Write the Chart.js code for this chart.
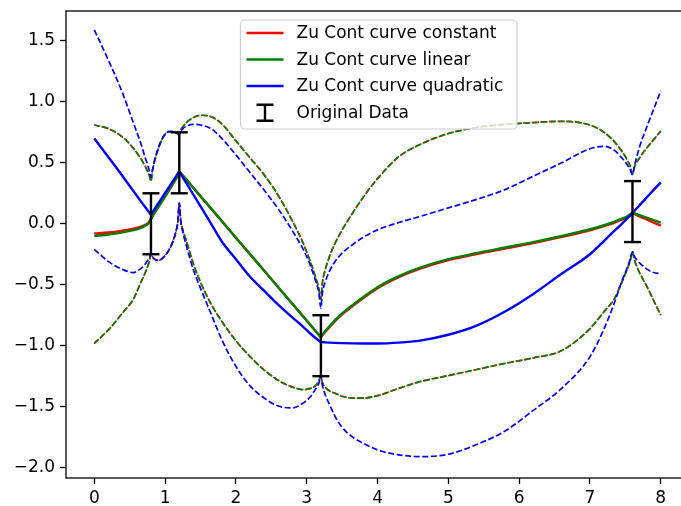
<!DOCTYPE html>
<html>
<head>
<meta charset="utf-8">
<script src="https://cdn.jsdelivr.net/npm/chart.js@4/dist/chart.umd.min.js"></script>
<style>
  html, body { margin: 0; padding: 0; background: #fff; overflow: hidden; }
  #wrap { position: relative; width: 700px; height: 506px; }
</style>
</head>
<body>
<div id="wrap"><canvas id="c" width="700" height="506"></canvas></div>
<script>
// Sample positions shared by every fitted curve
const xs = [0, 0.2, 0.4, 0.55, 0.65, 0.72, 0.76, 0.78, 0.8, 0.82, 0.85, 0.9, 0.95, 1.0, 1.05, 1.1, 1.15, 1.18, 1.2, 1.22,
            1.25, 1.3, 1.4, 1.5, 1.65, 1.8, 2.0, 2.2, 2.4, 2.6, 2.8, 2.95, 3.05, 3.12, 3.17, 3.2, 3.22, 3.26, 3.32, 3.4,
            3.5, 3.65, 3.8, 4.0, 4.3, 4.6, 5.0, 5.4, 5.8, 6.2, 6.6, 7.0, 7.2, 7.35, 7.45, 7.52, 7.57, 7.6, 7.63, 7.7,
            7.8, 7.9, 8.0];

// Constant trend: mean curve
const constMean = [-0.08, -0.072, -0.056, -0.04, -0.025, -0.008, 0.006, 0.02, 0.042, 0.06, 0.09, 0.135, 0.18, 0.225, 0.27, 0.32, 0.365, 0.40, 0.43, 0.416,
                   0.396, 0.362, 0.294, 0.226, 0.124, 0.022, -0.114, -0.25, -0.386, -0.522, -0.658, -0.76, -0.828, -0.876, -0.91, -0.93, -0.915, -0.888, -0.848, -0.798,
                   -0.743, -0.673, -0.608, -0.528, -0.438, -0.368, -0.298, -0.248, -0.203, -0.158, -0.108, -0.053, -0.02, 0.01, 0.034, 0.052, 0.07, 0.085, 0.08, 0.06,
                   0.035, 0.01, -0.015];
// Linear trend: mean curve
const linMean = [-0.10, -0.088, -0.07, -0.052, -0.035, -0.015, 0.0, 0.015, 0.04, 0.06, 0.09, 0.135, 0.18, 0.225, 0.27, 0.32, 0.365, 0.40, 0.43, 0.416,
                 0.396, 0.362, 0.294, 0.226, 0.124, 0.022, -0.114, -0.25, -0.386, -0.522, -0.658, -0.76, -0.828, -0.876, -0.91, -0.93, -0.91, -0.88, -0.84, -0.79,
                 -0.735, -0.665, -0.60, -0.52, -0.43, -0.36, -0.29, -0.24, -0.195, -0.15, -0.10, -0.045, -0.012, 0.018, 0.042, 0.06, 0.078, 0.09, 0.086, 0.07,
                 0.05, 0.03, 0.01];
// Quadratic trend: mean curve
const quadMean = [0.70, 0.545, 0.39, 0.27, 0.19, 0.135, 0.105, 0.09, 0.075, 0.093, 0.12, 0.164, 0.209, 0.253, 0.297, 0.341, 0.386, 0.413, 0.43, 0.41,
                  0.38, 0.333, 0.238, 0.143, 0.0, -0.145, -0.29, -0.435, -0.55, -0.665, -0.77, -0.845, -0.90, -0.935, -0.958, -0.97, -0.971, -0.973, -0.975, -0.977,
                  -0.979, -0.981, -0.982, -0.982, -0.975, -0.958, -0.91, -0.835, -0.72, -0.575, -0.41, -0.25, -0.14, -0.055, 0.0, 0.04, 0.07, 0.09, 0.108, 0.152,
                  0.215, 0.278, 0.34];

// Confidence band of the constant / linear trends (the two coincide)
const clUpper = [0.81, 0.78, 0.71, 0.62, 0.54, 0.47, 0.42, 0.39, 0.35, 0.43, 0.51, 0.61, 0.685, 0.735, 0.755, 0.755, 0.745, 0.738, 0.735, 0.77,
                 0.795, 0.83, 0.872, 0.89, 0.878, 0.82, 0.68, 0.54, 0.40, 0.23, 0.02, -0.16, -0.31, -0.43, -0.53, -0.62, -0.49, -0.38, -0.27, -0.16,
                 -0.05, 0.09, 0.22, 0.37, 0.55, 0.65, 0.74, 0.79, 0.815, 0.83, 0.84, 0.81, 0.75, 0.67, 0.595, 0.53, 0.47, 0.41, 0.47, 0.54,
                 0.62, 0.69, 0.76];
const clLower = [-0.98, -0.87, -0.73, -0.62, -0.49, -0.40, -0.34, -0.30, -0.245, -0.27, -0.29, -0.30, -0.29, -0.26, -0.22, -0.16, -0.07, 0.02, 0.17, 0.03,
                 -0.05, -0.14, -0.33, -0.48, -0.66, -0.80, -0.96, -1.09, -1.20, -1.285, -1.34, -1.36, -1.35, -1.33, -1.29, -1.25, -1.30, -1.34, -1.37, -1.39,
                 -1.415, -1.43, -1.43, -1.41, -1.35, -1.295, -1.245, -1.195, -1.145, -1.10, -1.04, -0.86, -0.72, -0.61, -0.48, -0.38, -0.30, -0.23, -0.30, -0.40,
                 -0.51, -0.63, -0.75];
// Confidence band of the quadratic trend
const qUpper = [1.59, 1.34, 1.07, 0.83, 0.67, 0.54, 0.47, 0.43, 0.38, 0.44, 0.52, 0.615, 0.69, 0.735, 0.755, 0.755, 0.745, 0.738, 0.735, 0.76,
                0.78, 0.80, 0.815, 0.81, 0.78, 0.70, 0.565, 0.42, 0.275, 0.12, -0.06, -0.21, -0.34, -0.46, -0.56, -0.69, -0.57, -0.48, -0.39, -0.31,
                -0.24, -0.17, -0.11, -0.05, 0.01, 0.06, 0.13, 0.20, 0.28, 0.39, 0.50, 0.615, 0.635, 0.60, 0.54, 0.49, 0.44, 0.40, 0.48, 0.63,
                0.79, 0.94, 1.09];
const qLower = [-0.21, -0.31, -0.375, -0.40, -0.37, -0.33, -0.295, -0.275, -0.245, -0.27, -0.29, -0.30, -0.29, -0.26, -0.22, -0.16, -0.07, 0.02, 0.17, 0.02,
                -0.07, -0.18, -0.38, -0.53, -0.74, -0.95, -1.17, -1.33, -1.43, -1.495, -1.51, -1.47, -1.42, -1.36, -1.31, -1.245, -1.32, -1.40, -1.48, -1.58,
                -1.67, -1.75, -1.80, -1.855, -1.895, -1.91, -1.89, -1.81, -1.70, -1.53, -1.35, -1.09, -0.86, -0.64, -0.47, -0.37, -0.29, -0.23, -0.27, -0.32,
                -0.37, -0.40, -0.41];

// Measured points with their error bars
const obsX = [0.8, 1.2, 3.2, 7.6];
const obsY = [0.0, 0.5, -1.0, 0.1];
const obsErr = [0.25, 0.25, 0.25, 0.25];

// Axis ticks
const xTicks = [0, 1, 2, 3, 4, 5, 6, 7, 8];
const yTicks = [-2.0, -1.5, -1.0, -0.5, 0.0, 0.5, 1.0, 1.5];

const legendLabels = ['Zu Cont curve constant', 'Zu Cont curve linear', 'Zu Cont curve quadratic', 'Original Data'];

const FONT = '"DejaVu Sans", "Liberation Sans", sans-serif';
const FS = 17;
const RED = '#ff0000', GREEN = '#008000', BLUE = '#0000ff';

const pts = ys => xs.map((x, i) => ({ x, y: ys[i] }));

const errPts = [];
obsX.forEach((x, i) => {
  errPts.push({ x, y: obsY[i] - obsErr[i] }, { x, y: obsY[i] + obsErr[i] }, { x, y: null });
});

const solid = (data, color, order) => ({
  data: pts(data), borderColor: color, borderWidth: 2.4, pointRadius: 0, showLine: true,
  cubicInterpolationMode: 'monotone', fill: false, order
});
const dashed = (data, color, order, offset) => ({
  data: pts(data), borderColor: color, borderWidth: 1.7, borderDash: [6, 2.6], borderDashOffset: offset || 0,
  pointRadius: 0, showLine: true, cubicInterpolationMode: 'monotone', fill: false, order
});

// Frame around the plotting area plus the in-plot legend
const framePlugin = {
  id: 'frame',
  afterDraw(chart) {
    const { ctx, chartArea: a } = chart;
    ctx.save();
    ctx.strokeStyle = '#000';
    ctx.lineWidth = 1.3;
    ctx.strokeRect(a.left, a.top, a.right - a.left, a.bottom - a.top);

    // legend box
    const bx = a.left + 174.5, by = a.top + 9, bw = 276.5, bh = 109, r = 4;
    ctx.beginPath();
    ctx.moveTo(bx + r, by);
    ctx.lineTo(bx + bw - r, by); ctx.arcTo(bx + bw, by, bx + bw, by + r, r);
    ctx.lineTo(bx + bw, by + bh - r); ctx.arcTo(bx + bw, by + bh, bx + bw - r, by + bh, r);
    ctx.lineTo(bx + r, by + bh); ctx.arcTo(bx, by + bh, bx, by + bh - r, r);
    ctx.lineTo(bx, by + r); ctx.arcTo(bx, by, bx + r, by, r);
    ctx.closePath();
    ctx.fillStyle = 'rgba(255,255,255,0.8)';
    ctx.fill();
    ctx.strokeStyle = '#d0d0d0';
    ctx.lineWidth = 1.2;
    ctx.stroke();

    const hx0 = bx + 6, hx1 = bx + 43, tx = bx + 56;
    const rowY = [by + 13, by + 39.5, by + 66, by + 92.7];
    const colors = [RED, GREEN, BLUE];
    ctx.lineWidth = 2.4;
    colors.forEach((c, i) => {
      ctx.strokeStyle = c;
      ctx.beginPath(); ctx.moveTo(hx0, rowY[i]); ctx.lineTo(hx1, rowY[i]); ctx.stroke();
    });
    // error bar symbol
    const cx = (hx0 + hx1) / 2, cy = rowY[3];
    ctx.strokeStyle = '#000';
    ctx.lineWidth = 2.4;
    ctx.beginPath();
    ctx.moveTo(cx, cy - 8); ctx.lineTo(cx, cy + 8);
    ctx.moveTo(cx - 8.5, cy - 8); ctx.lineTo(cx + 8.5, cy - 8);
    ctx.moveTo(cx - 8.5, cy + 8); ctx.lineTo(cx + 8.5, cy + 8);
    ctx.stroke();

    ctx.fillStyle = '#000';
    ctx.font = FS + 'px ' + FONT;
    ctx.textBaseline = 'middle';
    ctx.textAlign = 'left';
    legendLabels.forEach((t, i) => ctx.fillText(t, tx, rowY[i] + 1));
    ctx.restore();
  }
};

new Chart(document.getElementById('c'), {
  type: 'scatter',
  data: {
    datasets: [
      solid(constMean, RED, 9),
      dashed(clUpper, RED, 8, 1.2),
      dashed(clLower, RED, 7, 1.2),
      solid(linMean, GREEN, 6),
      dashed(clUpper, GREEN, 5),
      dashed(clLower, GREEN, 4),
      solid(quadMean, BLUE, 3),
      dashed(qUpper, BLUE, 2),
      dashed(qLower, BLUE, 1),
      {
        data: errPts, showLine: true, spanGaps: false, borderColor: '#000', borderWidth: 2.4,
        pointStyle: 'line', pointRadius: 8.5, pointBorderWidth: 2.4, pointBorderColor: '#000',
        pointBackgroundColor: '#000', pointHoverRadius: 8.5, order: 0
      }
    ]
  },
  options: {
    responsive: false,
    animation: false,
    devicePixelRatio: 1,
    layout: { padding: { top: 11, right: 9, left: 0, bottom: 0 } },
    plugins: { legend: { display: false }, tooltip: { enabled: false } },
    scales: {
      x: {
        type: 'linear', min: -0.4, max: 8.4,
        border: { display: false },
        grid: { drawOnChartArea: false, drawTicks: true, tickLength: 6, tickWidth: 1.3, tickColor: '#000' },
        ticks: { color: '#000', font: { family: FONT, size: FS }, padding: 4, autoSkip: false, maxRotation: 0,
                 callback: v => String(v) },
        afterBuildTicks: s => { s.ticks = xTicks.map(v => ({ value: v })); },
        afterFit: s => { s.height = 28; s.paddingLeft = 0; s.paddingRight = 0; }
      },
      y: {
        type: 'linear', min: -2.085, max: 1.745,
        border: { display: false },
        grid: { drawOnChartArea: false, drawTicks: true, tickLength: 6, tickWidth: 1.3, tickColor: '#000' },
        ticks: { color: '#000', font: { family: FONT, size: FS }, padding: 5, autoSkip: false,
                 callback: v => v.toFixed(1).replace('-', '\u2212') },
        afterBuildTicks: s => { s.ticks = yTicks.map(v => ({ value: v })); },
        afterFit: s => { s.width = 66; s.paddingTop = 0; s.paddingBottom = 0; }
      }
    }
  },
  plugins: [framePlugin]
});
</script>
</body>
</html>
